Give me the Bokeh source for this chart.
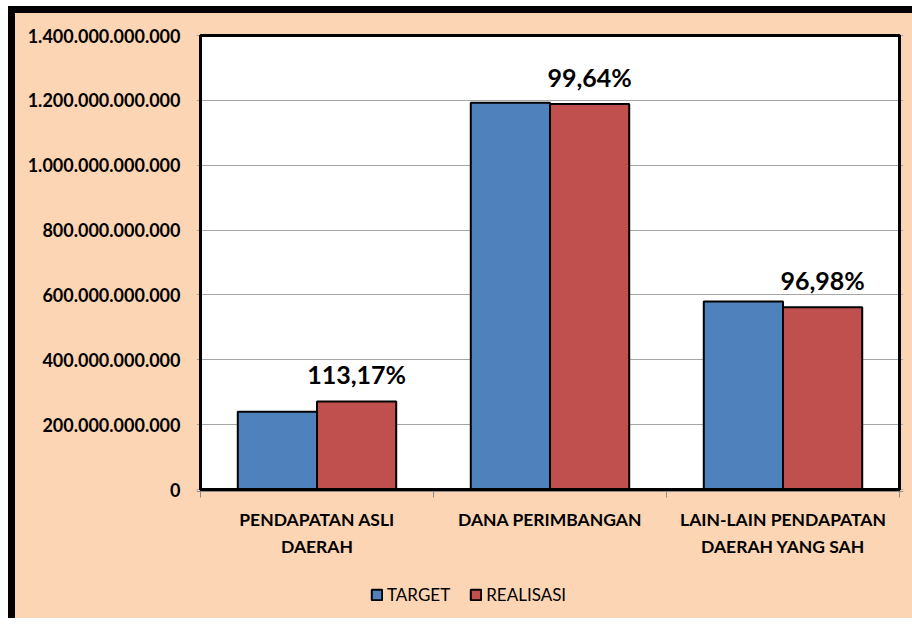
from bokeh.plotting import figure
from bokeh.models import (ColumnDataSource, FixedTicker, Legend, LegendItem, Range1d,
                          BoxAnnotation, Span)
from bokeh.transform import dodge
from bokeh.core.properties import value
from bokeh.embed import file_html
from bokeh.resources import INLINE

# ---- data ----
categories = ["PENDAPATAN ASLI\nDAERAH", "DANA PERIMBANGAN", "LAIN-LAIN PENDAPATAN\nDAERAH YANG SAH"]
target = [240.0e9, 1193.0e9, 579.5e9]
realisasi = [271.6e9, 1188.7e9, 562.0e9]
persen = ["113,17%", "99,64%", "96,98%"]
y_ticks = [0, 200_000_000_000, 400_000_000_000, 600_000_000_000, 800_000_000_000,
           1_000_000_000_000, 1_200_000_000_000, 1_400_000_000_000]
y_tick_labels = ["0", "200.000.000.000", "400.000.000.000", "600.000.000.000", "800.000.000.000",
                 "1.000.000.000.000", "1.200.000.000.000", "1.400.000.000.000"]

BLUE = "#4F81BD"
RED = "#C0504D"
PEACH = "#FCD5B5"
FONT = "Lato"

# ---- layout in canvas pixels ----
W, H = 904, 612
PL, PR, PT, PZ = 185, 884, 22, 476     # plot-area left/right/top and zero line
PAD = 4                                 # frame padding around the plot area
FB = 608                                # frame bottom
n = len(categories)
ymax = y_ticks[-1]
px_per_y = (PZ - PT) / ymax
px_per_x = (PR - PL) / n
y_hi = ymax + PAD / px_per_y
y_lo = -(FB - PZ) / px_per_y
x_pad = PAD / px_per_x

xc = [i + 0.5 for i in range(n)]
src = ColumnDataSource(dict(x=xc, target=target, realisasi=realisasi, persen=persen,
                            label=categories))

p = figure(width=W, height=H, output_backend="svg", toolbar_location=None,
           x_range=Range1d(-x_pad, n + x_pad), y_range=Range1d(y_lo, y_hi),
           min_border_left=PL - PAD, min_border_right=W - PR - PAD, min_border_top=PT - PAD,
           min_border_bottom=H - FB)
p.styles = {"border-left": "7px solid black", "border-top": "7px solid black",
            "margin-left": "8px", "margin-top": "6px", "background-color": PEACH}
p.border_fill_color = PEACH
p.background_fill_color = None
p.outline_line_color = None

# white plot area
p.add_layout(BoxAnnotation(left=0, right=n, bottom=0, top=ymax, fill_color="white",
                           fill_alpha=1, line_color=None, level="image"))

# grey category axis line just below the zero line, with boundary ticks
p.add_layout(Span(location=-2 / px_per_y, dimension="width", line_color="#8C8C8C",
                  line_width=1, level="underlay"))
p.ray(x=list(range(n + 1)), y=0, length=8, length_units="screen",
      angle=-90, angle_units="deg", line_color="#8C8C8C", line_width=1)

r1 = p.vbar(x=dodge("x", -0.17, range=p.x_range), top="target", width=0.34, source=src,
            fill_color=BLUE, line_color="black", line_width=2)
r2 = p.vbar(x=dodge("x", 0.17, range=p.x_range), top="realisasi", width=0.34, source=src,
            fill_color=RED, line_color="black", line_width=2)

# plot-area border
p.add_layout(BoxAnnotation(left=0, right=n, bottom=0, top=ymax, fill_alpha=0,
                           line_color="black", line_alpha=1, line_width=3, level="overlay"))

p.text(x=dodge("x", 0.17, range=p.x_range), y="realisasi", text="persen", source=src,
       text_align="center", text_baseline="bottom", y_offset=-12,
       text_font=value(FONT), text_font_style="bold", text_font_size="25px", text_color="black")

# category labels under the zero line
p.text(x="x", y=0, text="label", source=src, text_align="center", text_baseline="top",
       y_offset=19, text_font=value(FONT), text_font_style="bold", text_font_size="17.5px",
       text_line_height=1.33, text_color="black")

# y axis
p.yaxis.ticker = FixedTicker(ticks=y_ticks)
p.yaxis.major_label_overrides = {t: l for t, l in zip(y_ticks, y_tick_labels)}
p.yaxis.axis_line_color = None
p.yaxis.major_tick_line_color = None
p.yaxis.major_tick_out = 0
p.yaxis.major_tick_in = 0
p.yaxis.minor_tick_line_color = None
p.yaxis.major_label_standoff = 16
p.yaxis.major_label_text_font = FONT
p.yaxis.major_label_text_font_style = "bold"
p.yaxis.major_label_text_font_size = "18px"
p.yaxis.major_label_text_color = "black"

p.xaxis.visible = False
p.xgrid.grid_line_color = None
p.ygrid.grid_line_color = "#A6A6A6"
p.ygrid.grid_line_width = 1

legend = Legend(items=[LegendItem(label="TARGET", renderers=[r1]),
                       LegendItem(label="REALISASI", renderers=[r2])],
                orientation="horizontal", location=(PAD + 170, 16),
                background_fill_alpha=0, border_line_color=None,
                padding=0, margin=0, spacing=19, label_standoff=4,
                glyph_width=13, glyph_height=13,
                label_text_font=FONT, label_text_font_size="17px", label_text_color="black")
p.add_layout(legend)

open("out.html", "w").write(file_html(p, INLINE))
